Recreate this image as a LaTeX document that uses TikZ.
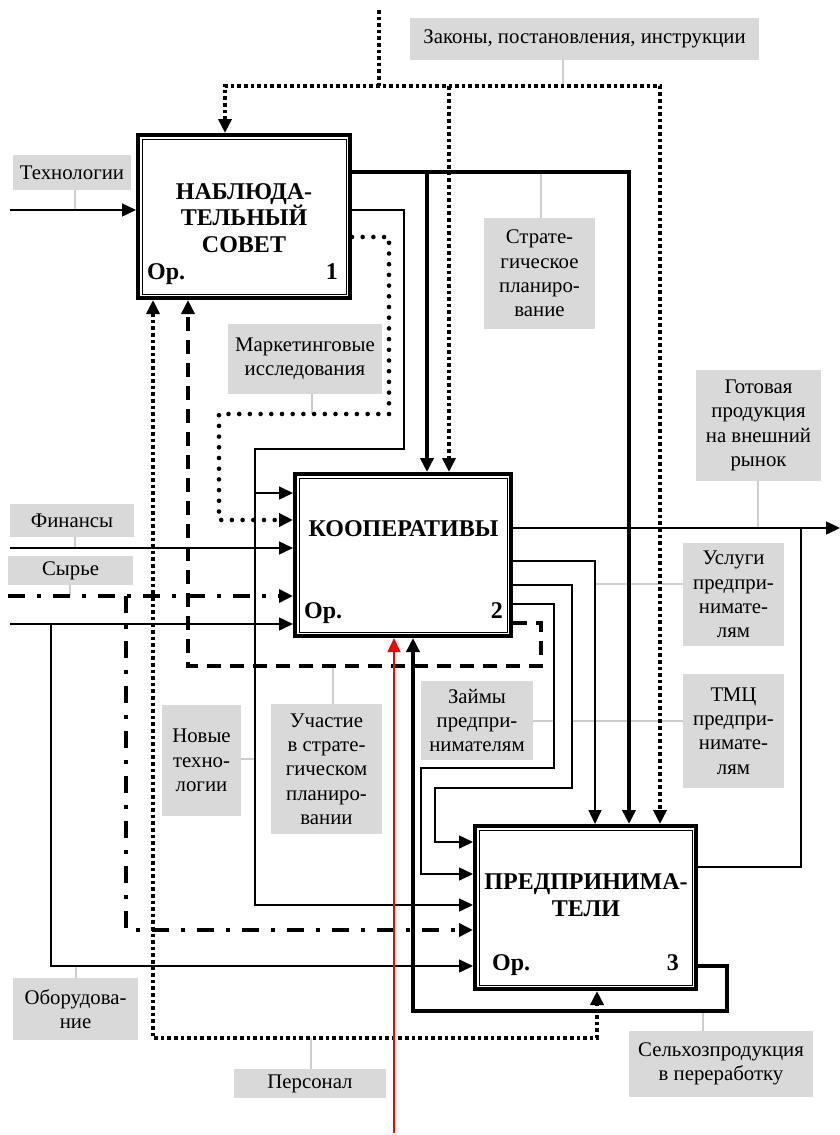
\documentclass[tikz,border=0pt]{standalone}
\usepackage{fontspec}
\setmainfont{Liberation Serif}
\usetikzlibrary{arrows.meta}
\definecolor{lgray}{RGB}{217,217,217}
\definecolor{leadgray}{RGB}{205,205,205}
\tikzset{
 box/.style={draw, line width=4pt, fill=white, inner sep=0pt},
 lbl/.style={fill=lgray, inner sep=0pt, align=center, font=\fontsize{20.8}{24.3}\selectfont},
 ttl/.style={font=\fontsize{24}{26.5}\selectfont\bfseries, align=center, inner sep=0pt},
 orl/.style={font=\fontsize{24}{26.5}\selectfont\bfseries, inner sep=0pt},
 thinl/.style={line width=1.5pt},
 thickl/.style={line width=3.6pt},
 sqdot/.style={line width=4pt, dash pattern=on 3.6pt off 3pt},
 rdot/.style={line width=4.6pt, line cap=round, dash pattern=on 0pt off 10.7pt},
 dashthick/.style={line width=3.6pt, dash pattern=on 14pt off 9pt},
 dashdotl/.style={line width=4.2pt, dash pattern=on 17pt off 12pt on 4pt off 12pt},
 redl/.style={line width=1.5pt, red},
 arr/.style={-{Triangle[length=14pt,width=13pt]}},
 arrb/.style={{Triangle[length=14pt,width=13pt]}-{Triangle[length=14pt,width=13pt]}},
 leader/.style={draw=leadgray, line width=1.4pt},
 inner/.style={line width=0.8pt},
}
\begin{document}
\begin{tikzpicture}[x=1pt,y=-1pt]
\useasboundingbox (0,0) rectangle (840,1135);
% boxes
\node[box, minimum width=212pt, minimum height=163pt] (b1) at (244,216.5) {};
\node[box, minimum width=216pt, minimum height=162pt] (b2) at (403,555) {};
\node[box, minimum width=221pt, minimum height=163pt] (b3) at (585.5,907.5) {};
\foreach \b in {b1,b2,b3}{
  \draw[inner] ([shift={(6pt,-6pt)}]\b.north west) rectangle ([shift={(-6pt,6pt)}]\b.south east);
}
\node[ttl] (t1) at (244,218) {НАБЛЮДА-\\ТЕЛЬНЫЙ\\СОВЕТ};
\node[ttl, anchor=base] (t2) at (403.5,536) {КООПЕРАТИВЫ};
\node[ttl] (t3) at (586,895) {ПРЕДПРИНИМА-\\ТЕЛИ};
\node[orl, anchor=base west] (o1) at (147,279) {Ор.};
\node[orl, anchor=base east] (n1) at (338,279) {1};
\node[orl, anchor=base west] (o2) at (304,618) {Ор.};
\node[orl, anchor=base east] (n2) at (503,618) {2};
\node[orl, anchor=base west] (o3) at (492,970) {Ор.};
\node[orl, anchor=base east] (n3) at (679,970) {3};
% labels
\node[lbl, minimum width=349pt, minimum height=42pt] (lz) at (584.5,39) {Законы, постановления, инструкции};
\node[lbl, minimum width=118pt, minimum height=35pt] (lt) at (72,172.5) {Технологии};
\node[lbl, minimum width=111pt, minimum height=111pt] (ls) at (539.5,273.5) {Страте-\\гическое\\планиро-\\вание};
\node[lbl, minimum width=154pt, minimum height=70pt] (lm) at (305,359) {Маркетинговые\\исследования};
\node[lbl, minimum width=125pt, minimum height=111pt] (lg) at (758.5,425.5) {Готовая\\продукция\\на внешний\\рынок};
\node[lbl, minimum width=124pt, minimum height=33pt] (lf) at (72,520.5) {Финансы};
\node[lbl, minimum width=125pt, minimum height=29pt] (lsy) at (70.5,570.5) {Сырье};
\node[lbl, minimum width=101pt, minimum height=103pt] (lu) at (733.5,594.5) {Услуги\\предпри-\\нимате-\\лям};
\node[lbl, minimum width=101pt, minimum height=114pt] (ltm) at (733.5,731) {ТМЦ\\предпри-\\нимате-\\лям};
\node[lbl, minimum width=112pt, minimum height=79pt] (lzm) at (477,720.5) {Займы\\предпри-\\нимателям};
\node[lbl, minimum width=79pt, minimum height=111pt] (ln) at (201.5,760.5) {Новые\\техно-\\логии};
\node[lbl, minimum width=111pt, minimum height=130pt] (lu2) at (326.5,769) {Участие\\в страте-\\гическом\\планиро-\\вании};
\node[lbl, minimum width=125pt, minimum height=62pt] (lo) at (75.5,1009) {Оборудова-\\ние};
\node[lbl, minimum width=152pt, minimum height=29pt] (lp) at (310,1083.5) {Персонал};
\node[lbl, minimum width=184pt, minimum height=66pt] (lsx) at (721,1064) {Сельхозпродукция\\в переработку};
% leaders
\draw[leader] (lz.south -| 563,0) -- (563,86);
\draw[leader] (lt.south -| 75,0) -- (75,210);
\draw[leader] (ls.north -| 541,0) -- (541,172);
\draw[leader] (lm.south -| 312,0) -- (312,414);
\draw[leader] (lg.south -| 758,0) -- (758,528);
\draw[leader] (lf.south -| 75,0) -- (75,548);
\draw[leader] (lsy.south -| 70,0) -- (70,596);
\draw[leader] (lu.west |- 0,584) -- (595,584);
\draw[leader] (ltm.west |- 0,721) -- (572,721);
\draw[leader] (lzm.east |- 0,721) -- (554,721);
\draw[leader] (ln.east |- 0,759) -- (255,759);
\draw[leader] (lu2.north -| 333,0) -- (333,666);
\draw[leader] (lo.north -| 76,0) -- (76,966);
\draw[leader] (lp.north -| 311,0) -- (311,1038);
\draw[leader] (lsx.north -| 703,0) -- (703,1011);
% connectors
% laws (controls)
\draw[sqdot] (379,10) -- (379,86);
\draw[sqdot,arrb] (b1.north -| 225,0) |- (660,86) -- (b3.north -| 660,0);
\draw[sqdot,arr] (449,86) -- (b2.north -| 449,0);
% technologies
\draw[thinl,arr] (10,210) -- (b1.west |- 0,210);
% strategic planning
\draw[thickl,arr] (b1.east |- 0,172) -| (b3.north -| 629,0);
\draw[thickl,arr] (427,172) -- (b2.north -| 427,0);
% new technologies
\draw[thinl,arr] (b1.east |- 0,210) -| (404,449) -| (255,905) -- (b3.west |- 0,905);
\draw[thinl,arr] (255,493) -- (b2.west |- 0,493);
% marketing
\draw[rdot,arr] (b1.east |- 0,237) -| (389,414) -| (219,520) -- (b2.west |- 0,520);
% finances
\draw[thinl,arr] (10,548) -- (b2.west |- 0,548);
% raw material
\draw[dashdotl,arr] (8,596) -- (b2.west |- 0,596);
\draw[dashdotl,arr] (126,596) |- (b3.west |- 0,930);
% equipment
\draw[thinl,arr] (10,624) -- (b2.west |- 0,624);
\draw[thinl,arr] (51,624) |- (b3.west |- 0,966);
% finished products
\draw[thinl,arr] (b2.east |- 0,528) -- (840,528);
\draw[thinl] (b3.east |- 0,867) -| (801,528);
% services, TMC, loans
\draw[thinl,arr] (b2.east |- 0,561) -| (b3.north -| 595,0);
\draw[thinl,arr] (b2.east |- 0,585) -| (572,788) -| (435,842) -- (b3.west |- 0,842);
\draw[thinl,arr] (b2.east |- 0,604) -| (554,768) -| (421,874) -- (b3.west |- 0,874);
% participation
\draw[dashthick,arr] (b2.east |- 0,623) -| (541,666) -| (b1.south -| 188,0);
% agricultural products
\draw[thickl,arr] (b3.east |- 0,966) -| (727,1011) -| (b2.south -| 413,0);
% personnel
\draw[sqdot,arrb] (b1.south -| 153,0) |- (597,1038) -- (b3.south -| 597,0);
% red
\draw[redl,arr] (394,1133) -- (b2.south -| 394,0);
\end{tikzpicture}
\end{document}
